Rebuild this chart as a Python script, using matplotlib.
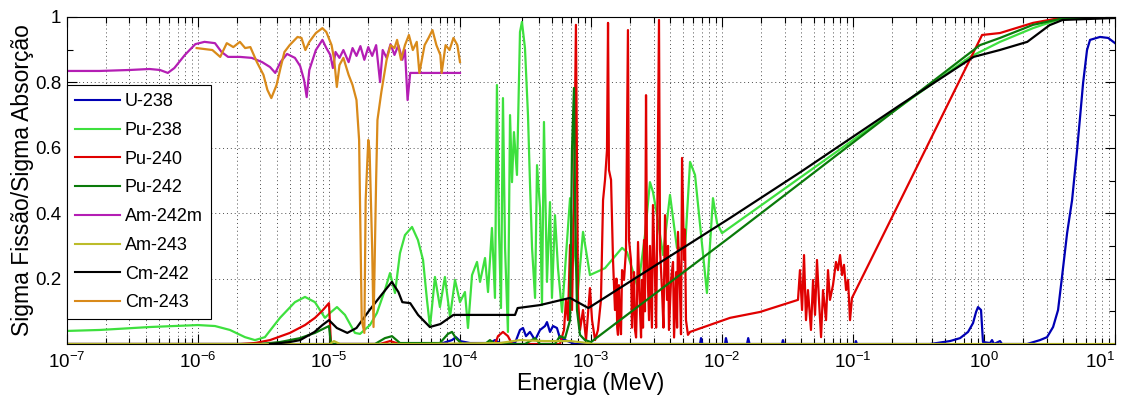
import numpy as np
import matplotlib.pyplot as plt
from matplotlib.ticker import NullFormatter, FixedLocator

plt.rcParams['font.family'] = ['Liberation Sans', 'DejaVu Sans']
plt.rcParams['mathtext.fontset'] = 'custom'
plt.rcParams['mathtext.rm'] = 'Liberation Sans'
plt.rcParams['mathtext.it'] = 'Liberation Sans:italic'

# fission / absorption ratios, energies given as log10(E / MeV)
u238_loge = [-7.0, -4.153, -4.061, -4.031, -4.0, -3.924, -3.771, -3.733, -3.695, -3.58,
             -3.542, -3.519, -3.496, -3.466, -3.427, -3.389, -3.351, -3.336, -3.313, -3.29,
             -3.26, -3.237, -3.198, -3.122, -2.168, -2.16, -2.15, -1.977, -1.97, -1.96,
             -1.809, -1.8, -1.79, -1.542, -1.535, -1.527, -0.985, -0.978, -0.97, -0.412,
             -0.26, -0.183, -0.122, -0.084, -0.061, -0.046, -0.023, -0.008, 0.046, 0.061,
             0.076, 0.122, 0.137, 0.328, 0.427, 0.481, 0.527, 0.565, 0.595, 0.634,
             0.672, 0.71, 0.733, 0.756, 0.786, 0.809, 0.885, 0.947, 1.0]
u238_ratio = [0.0, 0.0, 0.012, 0.021, 0.009, 0.003, 0.003, 0.012, 0.003, 0.003,
              0.043, 0.049, 0.024, 0.037, 0.012, 0.043, 0.055, 0.067, 0.037, 0.055,
              0.049, 0.018, 0.012, 0.0, 0.0, 0.018, 0.0, 0.0, 0.018, 0.0,
              0.0, 0.018, 0.0, 0.0, 0.012, 0.0, 0.0, 0.009, 0.0, 0.0,
              0.009, 0.018, 0.037, 0.064, 0.098, 0.113, 0.104, 0.006, 0.003, 0.012,
              0.0, 0.009, 0.0, 0.0, 0.012, 0.021, 0.052, 0.104, 0.205, 0.339,
              0.44, 0.593, 0.694, 0.798, 0.899, 0.93, 0.939, 0.936, 0.92]

pu238_loge = [-7.0, -6.748, -6.366, -6.0, -5.87, -5.756, -5.641, -5.565, -5.489, -5.374,
              -5.26, -5.183, -5.107, -5.031, -4.992, -4.939, -4.878, -4.802, -4.763, -4.687,
              -4.634, -4.573, -4.534, -4.496, -4.458, -4.42, -4.366, -4.321, -4.282, -4.252,
              -4.229, -4.191, -4.153, -4.115, -4.076, -4.038, -4.0, -3.962, -3.939, -3.908,
              -3.87, -3.847, -3.809, -3.786, -3.756, -3.733, -3.718, -3.702, -3.687, -3.672,
              -3.656, -3.634, -3.618, -3.603, -3.588, -3.565, -3.542, -3.527, -3.504, -3.481,
              -3.466, -3.45, -3.427, -3.412, -3.389, -3.374, -3.359, -3.336, -3.313, -3.298,
              -3.275, -3.252, -3.221, -3.16, -3.137, -3.099, -3.061, -3.008, -2.893, -2.763,
              -2.725, -2.641, -2.588, -2.55, -2.527, -2.496, -2.45, -2.397, -2.344, -2.282,
              -2.244, -2.206, -2.115, -2.069, -2.038, -2.0, -0.107, 0.122, 0.374, 0.58, 1.0]
pu238_ratio = [0.04, 0.043, 0.052, 0.058, 0.055, 0.043, 0.021, 0.012, 0.021, 0.08,
               0.128, 0.144, 0.128, 0.08, 0.095, 0.113, 0.089, 0.034, 0.031, 0.058,
               0.095, 0.165, 0.217, 0.156, 0.278, 0.333, 0.358, 0.318, 0.257, 0.135,
               0.052, 0.205, 0.113, 0.205, 0.083, 0.196, 0.128, 0.159, 0.049, 0.211,
               0.251, 0.19, 0.263, 0.159, 0.355, 0.141, 0.792, 0.343, 0.11, 0.752,
               0.294, 0.037, 0.7, 0.495, 0.648, 0.517, 0.954, 0.985, 0.905, 0.7,
               0.495, 0.294, 0.141, 0.547, 0.416, 0.119, 0.679, 0.19, 0.434, 0.141,
               0.394, 0.232, 0.098, 0.446, 0.343, 0.165, 0.343, 0.211, 0.232, 0.294,
               0.281, 0.171, 0.333, 0.495, 0.465, 0.394, 0.272, 0.456, 0.294, 0.294,
               0.557, 0.517, 0.156, 0.446, 0.37, 0.339, 0.878, 0.924, 0.966, 0.994, 1.0]

pu240_loge = [-7.0, -5.679, -5.565, -5.45, -5.298, -5.183, -5.107, -5.053, -5.0, -4.985,
              -4.611, -4.534, -4.458, -3.733, -3.71, -3.672, -3.634, -3.603, -3.237, -3.206,
              -3.191, -3.176, -3.16, -3.145, -3.13, -3.115, -3.099, -3.084, -3.061, -3.038,
              -3.008, -2.992, -2.969, -2.947, -2.924, -2.908, -2.893, -2.878, -2.87, -2.863,
              -2.847, -2.832, -2.817, -2.806, -2.8, -2.794, -2.787, -2.779, -2.771, -2.763,
              -2.748, -2.733, -2.718, -2.71, -2.695, -2.687, -2.679, -2.672, -2.664, -2.656,
              -2.648, -2.641, -2.626, -2.618, -2.611, -2.603, -2.595, -2.588, -2.58, -2.573,
              -2.557, -2.55, -2.542, -2.535, -2.527, -2.511, -2.503, -2.496, -2.481, -2.473,
              -2.458, -2.447, -2.435, -2.42, -2.412, -2.405, -2.389, -2.374, -2.366, -2.359,
              -2.35, -2.343, -2.336, -2.321, -2.313, -2.305, -2.29, -2.283, -2.275, -2.26,
              -2.244, -1.939, -1.71, -1.42, -1.405, -1.389, -1.374, -1.359, -1.344, -1.321,
              -1.305, -1.29, -1.275, -1.26, -1.244, -1.229, -1.206, -1.191, -1.176, -1.153,
              -1.13, -1.115, -1.099, -1.084, -1.069, -1.053, -1.038, -1.023, -1.008, -0.618,
              -0.015, 0.122, 0.374, 0.58, 1.0]
pu240_ratio = [0.0, 0.0, 0.003, 0.012, 0.034, 0.058, 0.08, 0.101, 0.125, 0.0,
               0.0, 0.009, 0.0, 0.0, 0.024, 0.037, 0.024, 0.0, 0.0, 0.043,
               0.135, 0.073, 0.303, 0.104, 0.44, 0.976, 0.135, 0.043, 0.104, 0.012,
               0.171, 0.073, 0.012, 0.043, 0.135, 0.44, 0.502, 0.593, 0.982, 0.532,
               0.502, 0.257, 0.104, 0.2, 0.05, 0.028, 0.18, 0.073, 0.03, 0.226,
               0.196, 0.287, 0.96, 0.318, 0.257, 0.05, 0.135, 0.22, 0.043, 0.02,
               0.15, 0.312, 0.104, 0.02, 0.196, 0.05, 0.318, 0.1, 0.761, 0.287,
               0.073, 0.3, 0.165, 0.05, 0.425, 0.196, 0.05, 0.287, 0.991, 0.287,
               0.165, 0.05, 0.394, 0.135, 0.3, 0.043, 0.196, 0.251, 0.02, 0.104,
               0.22, 0.05, 0.343, 0.165, 0.03, 0.569, 0.257, 0.35, 0.073, 0.028,
               0.037, 0.08, 0.098, 0.135, 0.226, 0.104, 0.272, 0.073, 0.165, 0.043,
               0.196, 0.089, 0.257, 0.135, 0.021, 0.165, 0.073, 0.226, 0.135, 0.18,
               0.251, 0.226, 0.272, 0.211, 0.242, 0.165, 0.196, 0.073, 0.141, 0.456,
               0.945, 0.951, 0.982, 0.997, 1.0]

pu242_loge = [-7.0, -5.527, -5.374, -5.221, -5.107, -5.0, -4.985, -4.649, -4.573, -4.519,
              -4.458, -4.153, -4.092, -4.061, -4.031, -3.985, -3.809, -3.771, -3.733, -3.504,
              -3.427, -3.389, -3.275, -3.237, -3.198, -3.16, -3.145, -3.13, -3.122, -3.107,
              -3.084, -3.046, -3.0, -1.939, -0.031, 0.122, 0.374, 0.58, 1.0]
pu242_ratio = [0.0, 0.0, 0.006, 0.018, 0.034, 0.055, 0.0, 0.0, 0.018, 0.024,
               0.003, 0.003, 0.031, 0.037, 0.018, 0.0, 0.0, 0.012, 0.0, 0.0,
               0.018, 0.0, 0.0, 0.024, 0.018, 0.073, 0.593, 0.783, 0.44, 0.104,
               0.028, 0.012, 0.006, 0.327, 0.914, 0.936, 0.976, 0.994, 1.0]

am242m_loge = [-7.0, -6.75, -6.52, -6.37, -6.29, -6.23, -6.18, -6.1, -6.02, -5.95,
               -5.87, -5.82, -5.77, -5.68, -5.59, -5.51, -5.45, -5.41, -5.37, -5.32,
               -5.26, -5.22, -5.19, -5.17, -5.15, -5.1, -5.05, -5.02, -4.99, -4.97,
               -4.95, -4.92, -4.89, -4.85, -4.82, -4.79, -4.76, -4.73, -4.7, -4.67,
               -4.64, -4.61, -4.59, -4.56, -4.53, -4.5, -4.47, -4.44, -4.42, -4.4,
               -4.38, -4.0]
am242m_ratio = [0.835, 0.835, 0.838, 0.841, 0.838, 0.829, 0.844, 0.884, 0.917, 0.924,
                0.92, 0.893, 0.878, 0.878, 0.875, 0.862, 0.847, 0.829, 0.862, 0.887,
                0.875, 0.85, 0.807, 0.755, 0.838, 0.899, 0.93, 0.905, 0.884, 0.844,
                0.893, 0.875, 0.899, 0.862, 0.905, 0.881, 0.911, 0.869, 0.908, 0.881,
                0.914, 0.801, 0.899, 0.875, 0.917, 0.884, 0.914, 0.869, 0.899, 0.746,
                0.829, 0.829]

am243_loge = [-7.0, -4.992, -4.962, -4.916, -4.305, -3.695, -3.542, -3.351, -3.16, -3.023,
              -2.992, 1.0]
am243_ratio = [0.0, 0.0, 0.009, 0.0, 0.0, 0.003, 0.012, 0.009, 0.009, 0.003,
               0.0, 0.0]

cm242_loge = [-5.45, -5.3, -5.22, -5.11, -5.05, -5.0, -4.94, -4.86, -4.79, -4.69,
              -4.6, -4.52, -4.47, -4.44, -4.38, -4.32, -4.23, -4.15, -4.05, -4.0,
              -3.58, -3.56, -3.39, -3.16, -3.02, -1.94, -1.4, -0.64, -0.08, 0.12,
              0.33, 0.5, 0.6, 1.0]
cm242_ratio = [0.0, 0.006, 0.012, 0.037, 0.058, 0.073, 0.049, 0.034, 0.049, 0.104,
               0.15, 0.19, 0.159, 0.128, 0.125, 0.089, 0.052, 0.061, 0.089, 0.089,
               0.089, 0.11, 0.119, 0.141, 0.11, 0.385, 0.526, 0.731, 0.878, 0.899,
               0.924, 0.975, 0.991, 0.997]

cm243_loge = [-6.01, -5.95, -5.89, -5.83, -5.78, -5.73, -5.68, -5.64, -5.6, -5.55,
              -5.5, -5.47, -5.44, -5.4, -5.37, -5.34, -5.3, -5.24, -5.21, -5.18,
              -5.15, -5.1, -5.05, -5.02, -4.98, -4.96, -4.94, -4.92, -4.89, -4.85,
              -4.82, -4.79, -4.77, -4.75, -4.73, -4.72, -4.7, -4.69, -4.67, -4.66,
              -4.64, -4.63, -4.6, -4.56, -4.53, -4.5, -4.48, -4.45, -4.42, -4.39,
              -4.36, -4.33, -4.31, -4.27, -4.24, -4.21, -4.18, -4.15, -4.14, -4.11,
              -4.08, -4.05, -4.02, -4.0]
cm243_ratio = [0.905, 0.902, 0.899, 0.878, 0.92, 0.908, 0.924, 0.905, 0.908, 0.862,
               0.823, 0.777, 0.752, 0.792, 0.844, 0.893, 0.914, 0.939, 0.936, 0.899,
               0.924, 0.951, 0.966, 0.954, 0.914, 0.869, 0.786, 0.853, 0.875, 0.823,
               0.792, 0.746, 0.624, 0.073, 0.034, 0.44, 0.624, 0.593, 0.287, 0.052,
               0.502, 0.685, 0.771, 0.869, 0.914, 0.905, 0.93, 0.869, 0.914, 0.945,
               0.899, 0.924, 0.829, 0.914, 0.936, 0.96, 0.914, 0.884, 0.829, 0.914,
               0.899, 0.936, 0.914, 0.862]

series = [
    ('U-238', u238_loge, u238_ratio, '#0000b4'),
    ('Pu-238', pu238_loge, pu238_ratio, '#3ee03e'),
    ('Pu-240', pu240_loge, pu240_ratio, '#e00000'),
    ('Pu-242', pu242_loge, pu242_ratio, '#0a7a0a'),
    ('Am-242m', am242m_loge, am242m_ratio, '#b41eb4'),
    ('Am-243', am243_loge, am243_ratio, '#bcbc2a'),
    ('Cm-242', cm242_loge, cm242_ratio, '#000000'),
    ('Cm-243', cm243_loge, cm243_ratio, '#d98a1a'),
]

decades = [-7, -6, -5, -4, -3, -2, -1, 0, 1]

fig = plt.figure(figsize=(11.27, 3.99), dpi=100)
ax = fig.add_axes([0.0594, 0.1378, 0.9300, 0.8196])

for name, loge, ratio, color in series:
    energy = np.power(10.0, np.array(loge))
    ax.plot(energy, ratio, color=color, lw=1.6, label=name)

ax.set_xscale('log')
ax.set_xlim(1e-7, 10)
ax.set_ylim(0, 1)

ax.set_xticks([10.0 ** d for d in decades])
ax.set_xticklabels([r'$10^{%d}$' % d for d in decades])
minor_x = [m * 10.0 ** d for d in decades[:-1] for m in range(2, 10)]
ax.xaxis.set_minor_locator(FixedLocator(minor_x))
ax.xaxis.set_minor_formatter(NullFormatter())
ax.set_yticks([0.2, 0.4, 0.6, 0.8, 1.0])
ax.set_yticklabels(['0.2', '0.4', '0.6', '0.8', '1'])
ax.yaxis.set_minor_locator(FixedLocator([0.1, 0.3, 0.5, 0.7, 0.9]))

ax.tick_params(which='both', direction='in', top=True, right=True, labelsize=13.5)
ax.tick_params(which='major', length=7, width=0.8)
ax.tick_params(which='minor', length=4.5, width=0.8)
ax.tick_params(axis='x', pad=6)
ax.tick_params(axis='y', pad=4)
# keep the last decade label inside the figure
ax.get_xticklabels()[-1].set_horizontalalignment('right')
ax.get_xticklabels()[-1].set_x(10.0)

grid_style = dict(color='0.3', linestyle=(0, (1, 3)), linewidth=0.7)
ax.grid(True, which='major', axis='both', **grid_style)
ax.grid(True, which='minor', axis='x', **grid_style)
ax.set_axisbelow(True)

ax.set_xlabel('Energia (MeV)', fontsize=16.5, labelpad=0)
ax.set_ylabel('Sigma Fissão/Sigma Absorção', fontsize=16.5, labelpad=1)

leg = ax.legend(loc='upper left', bbox_to_anchor=(0.0, 0.792), borderaxespad=0,
                fontsize=13, frameon=True, fancybox=False, edgecolor='black',
                framealpha=1, handlelength=2.5, handletextpad=0.25,
                labelspacing=0.65, borderpad=0.45)
leg.get_frame().set_linewidth(0.8)
for line in leg.get_lines():
    line.set_linewidth(1.5)

fig.savefig('out.png', dpi=100)
